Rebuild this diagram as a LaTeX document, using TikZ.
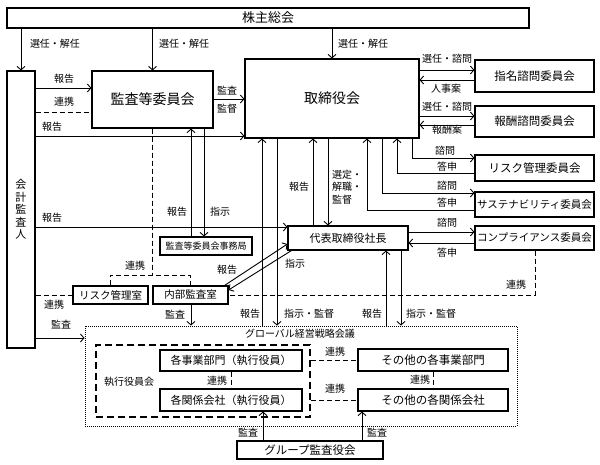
\documentclass[tikz,border=0pt]{standalone}
\usepackage{fontspec}
\setmainfont{Noto Sans CJK JP}
\usetikzlibrary{arrows.meta}
\tikzset{
  box/.style={draw, line width=1.1pt, inner sep=0pt, font=\fontsize{11.5}{12}\selectfont},
  lbl/.style={inner sep=0pt, font=\fontsize{10}{11}\selectfont},
  arr/.style={line width=0.9pt, -{Straight Barb[length=3.5pt,width=8pt]}},
  dsh/.style={line width=0.9pt, dash pattern=on 5pt off 3pt},
  dotbox/.style={draw, line width=0.9pt, dash pattern=on 1pt off 1pt},
  dshbox/.style={draw, line width=1.1pt, dash pattern=on 7pt off 4pt},
}
\begin{document}
\begin{tikzpicture}[x=1pt,y=-1pt]
\useasboundingbox (0,0) rectangle (600,465);
% boxes
\node[box, minimum width=522pt, minimum height=20pt, font=\fontsize{13}{14}\selectfont] (soukai) at (268,18) {株主総会};
\node[box, minimum width=28pt, minimum height=277pt, align=center, font=\fontsize{11}{12.5}\selectfont] (kaikei) at (21,209.5) {会\\計\\監\\査\\人};
\node[box, minimum width=121pt, minimum height=57pt, font=\fontsize{14}{15}\selectfont] (kansa) at (152.5,99.5) {監査等委員会};
\node[box, minimum width=174pt, minimum height=79pt, font=\fontsize{14}{15}\selectfont] (tori) at (332,98.5) {取締役会};
\node[box, minimum width=119pt, minimum height=32pt] (shimei) at (534.5,76) {指名諮問委員会};
\node[box, minimum width=119pt, minimum height=31pt] (houshu) at (534.5,121.5) {報酬諮問委員会};
\node[box, minimum width=119pt, minimum height=26pt] (riskc) at (534.5,168) {リスク管理委員会};
\node[box, minimum width=119pt, minimum height=25pt, font=\fontsize{10.5}{11}\selectfont] (sust) at (534.5,204.5) {サステナビリティ委員会};
\node[box, minimum width=119pt, minimum height=24pt, font=\fontsize{10.5}{11}\selectfont] (comp) at (534.5,238) {コンプライアンス委員会};
\node[box, minimum width=120pt, minimum height=24pt, font=\fontsize{11}{12}\selectfont] (daihyo) at (348,238) {代表取締役社長};
\node[box, minimum width=92pt, minimum height=18pt, font=\fontsize{9}{10}\selectfont] (jimu) at (206,246) {監査等委員会事務局};
\node[box, minimum width=75pt, minimum height=18pt, font=\fontsize{10.5}{11}\selectfont] (riskr) at (110.5,295) {リスク管理室};
\node[box, minimum width=75pt, minimum height=18pt, font=\fontsize{10.5}{11}\selectfont] (naibu) at (190.5,295) {内部監査室};
\node[dotbox, minimum width=432pt, minimum height=100pt] (global) at (301,376) {};
\node[dshbox, minimum width=214pt, minimum height=72pt] (shikko) at (203,381) {};
\node[box, minimum width=142pt, minimum height=21pt, font=\fontsize{11}{12}\selectfont] (jigyo) at (231,360.5) {各事業部門（執行役員）};
\node[box, minimum width=142pt, minimum height=22pt, font=\fontsize{11}{12}\selectfont] (kankei) at (231,400) {各関係会社（執行役員）};
\node[box, minimum width=150pt, minimum height=22pt] (ojigyo) at (433,360) {その他の各事業部門};
\node[box, minimum width=150pt, minimum height=22pt] (okankei) at (433,400) {その他の各関係会社};
\node[box, minimum width=146pt, minimum height=18pt] (group) at (310,450) {グループ監査役会};
% connectors
\draw[arr] (soukai.south -| kaikei.north) -- (kaikei.north);
\draw[arr] (soukai.south -| kansa.north) -- (kansa.north);
\draw[arr] (soukai.south -| tori.north) -- (tori.north);
\draw[arr] (kaikei.east |- 0,88) -- (kansa.west |- 0,88);
\draw[dsh] (kaikei.east |- 0,112) -- (kansa.west |- 0,112);
\draw[arr] (kaikei.east |- 0,136) -- (tori.west |- 0,136);
\draw[arr] (kansa.east |- 0,99) -- (tori.west |- 0,99);
\draw[dsh] (kansa.south) -- (kansa.south |- 0,275);
\draw[dsh] (riskr.north) -- (riskr.north |- 0,275) -| (naibu.north);
\draw[arr] (jimu.north -| 191,0) -- (kansa.south -| 191,0);
\draw[arr] (kansa.south -| 204,0) -- (jimu.north -| 204,0);
\draw[arr] (kaikei.east |- 0,227) -- (daihyo.west |- 0,227);
\draw[arr] (tori.east |- 0,70) -- (shimei.west |- 0,70);
\draw[arr] (shimei.west |- 0,80) -- (tori.east |- 0,80);
\draw[arr] (tori.east |- 0,116) -- (houshu.west |- 0,116);
\draw[arr] (houshu.west |- 0,125) -- (tori.east |- 0,125);
\draw[arr] (tori.south -| 412,0) |- (riskc.west |- 0,158);
\draw[arr] (riskc.west |- 0,173) -| (tori.south -| 397,0);
\draw[arr] (tori.south -| 382,0) |- (sust.west |- 0,193);
\draw[arr] (sust.west |- 0,210) -| (tori.south -| 367,0);
\draw[arr] (daihyo.east |- 0,232) -- (comp.west |- 0,232);
\draw[arr] (comp.west |- 0,243) -- (daihyo.east |- 0,243);
\draw[arr] (daihyo.north -| 313,0) -- (tori.south -| 313,0);
\draw[arr] (tori.south -| 328,0) -- (daihyo.north -| 328,0);
\draw[dsh] (comp.south -| 535,0) |- (naibu.east);
\draw[dsh] (kaikei.east |- riskr.west) -- (riskr.west);
\draw[arr] ([xshift=-4pt]naibu.north east) -- ([yshift=-6pt]daihyo.west);
\draw[arr] ([xshift=4pt]daihyo.south west) -- ([yshift=5pt]naibu.east);
\draw[arr] (naibu.south -| 191,0) -- (global.north -| 191,0);
\draw[arr] (global.north -| 262,0) -- (tori.south -| 262,0);
\draw[arr] (tori.south -| 277,0) -- (global.north -| 277,0);
\draw[arr] (global.north -| 386,0) -- (daihyo.south -| 386,0);
\draw[arr] (daihyo.south -| 401,0) -- (global.north -| 401,0);
\draw[arr] (kaikei.east |- 0,338) -- (global.west |- 0,338);
\draw[dsh] (jigyo.south) -- (kankei.north);
\draw[dsh] (ojigyo.south) -- (okankei.north);
\draw[dsh] (shikko.east |- ojigyo.west) -- (ojigyo.west);
\draw[dsh] (shikko.east |- okankei.west) -- (okankei.west);
\draw[arr] (group.north -| 263,0) -- (kankei.south -| 263,0);
\draw[arr] (group.north -| 362,0) -- (okankei.south -| 362,0);
% labels
\node[lbl] (l1) at (55,44) {選任・解任};
\node[lbl] (l2) at (184,44) {選任・解任};
\node[lbl] (l3) at (363,44) {選任・解任};
\node[lbl] (l4) at (64,79) {報告};
\node[lbl] (l5) at (64,102) {連携};
\node[lbl] (l6) at (52,127) {報告};
\node[lbl] (l7) at (227,91) {監査};
\node[lbl] (l8) at (227,109) {監督};
\node[lbl] (l9) at (447,59) {選任・諮問};
\node[lbl] (l10) at (446,89) {人事案};
\node[lbl] (l11) at (447,107) {選任・諮問};
\node[lbl] (l12) at (447,130) {報酬案};
\node[lbl] (l13) at (445,151) {諮問};
\node[lbl] (l14) at (447,167) {答申};
\node[lbl] (l15) at (447,186) {諮問};
\node[lbl] (l16) at (447,203) {答申};
\node[lbl] (l17) at (447,223) {諮問};
\node[lbl] (l18) at (447,253) {答申};
\node[lbl] (l19) at (516,285) {連携};
\node[lbl] (l20) at (299,187) {報告};
\node[lbl, align=left, font=\fontsize{10}{12.5}\selectfont] (l21) at (347,187) {選定・\\解職・\\監督};
\node[lbl] (l22) at (177,212) {報告};
\node[lbl] (l23) at (220,212) {指示};
\node[lbl] (l24) at (52,218) {報告};
\node[lbl] (l25) at (135,266) {連携};
\node[lbl] (l26) at (227,270) {報告};
\node[lbl] (l27) at (295,264) {指示};
\node[lbl] (l28) at (54,305) {連携};
\node[lbl] (l29) at (61,325) {監査};
\node[lbl] (l30) at (175,315) {監査};
\node[lbl] (l31) at (250,314) {報告};
\node[lbl] (l32) at (309,314) {指示・監督};
\node[lbl] (l33) at (372,314) {報告};
\node[lbl] (l34) at (431,314) {指示・監督};
\node[lbl] (l35) at (300,334) {グローバル経営戦略会議};
\node[lbl] (l36) at (129,382) {執行役員会};
\node[lbl] (l37) at (217,381) {連携};
\node[lbl] (l38) at (335,352) {連携};
\node[lbl] (l39) at (335,389) {連携};
\node[lbl] (l40) at (420,380) {連携};
\node[lbl] (l41) at (248,433) {監査};
\node[lbl] (l42) at (377,433) {監査};
\end{tikzpicture}
\end{document}
